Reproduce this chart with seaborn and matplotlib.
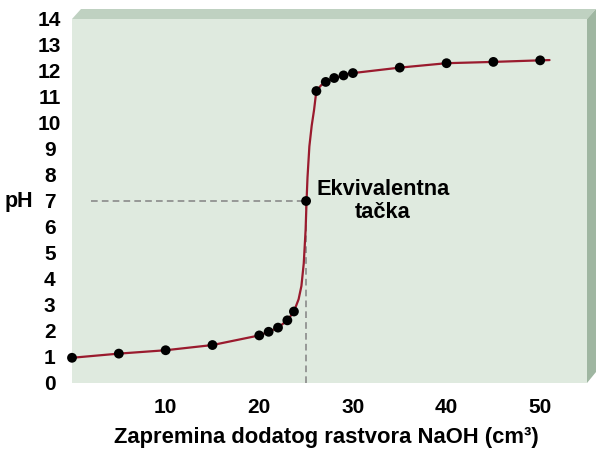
import matplotlib
matplotlib.use("Agg")
import matplotlib.pyplot as plt
from matplotlib.patches import Polygon
import seaborn as sns
import pandas as pd

# measured titration points
volume_ml = [0, 5, 10, 15, 20, 21, 22, 23, 23.7, 25, 26.1, 27.1, 28, 29, 30, 35, 40, 45, 50]
ph_values = [0.97, 1.13, 1.26, 1.46, 1.83, 1.97, 2.13, 2.41, 2.75, 7.0,
             11.23, 11.58, 11.73, 11.83, 11.92, 12.13, 12.3, 12.35, 12.41]

# smooth titration curve
curve_ml = [0, 5, 10, 15, 20, 21, 22, 23, 23.7, 24.2, 24.5, 24.75, 24.95, 25.05,
            25.15, 25.35, 25.6, 25.85, 26.0, 26.1, 26.6, 27.1, 28, 29, 30, 35, 40, 45, 50, 51]
curve_ph = [0.97, 1.13, 1.26, 1.46, 1.83, 1.97, 2.13, 2.41, 2.75, 3.22, 3.73, 4.6, 5.9, 7.0,
            7.9, 9.1, 9.9, 10.5, 10.95, 11.23, 11.45, 11.58, 11.73, 11.83, 11.92, 12.13, 12.3, 12.35,
            12.41, 12.42]

eq_ml = 25
eq_ph = 7
dash_start_ml = 2.0

x_ticks = [10, 20, 30, 40, 50]
y_ticks = list(range(0, 15))
x_label = "Zapremina dodatog rastvora NaOH (cm³)"
y_label = "pH"
eq_label = "Ekvivalentna\ntačka"

sns.set_style("white")
plt.rcParams["font.family"] = ["Liberation Sans", "DejaVu Sans"]
plt.rcParams["font.weight"] = "bold"
plt.rcParams["text.color"] = "black"
plt.rcParams["xtick.color"] = "black"
plt.rcParams["ytick.color"] = "black"
plt.rcParams["axes.labelcolor"] = "black"

fig = plt.figure(figsize=(6.06, 4.55), dpi=100)
W, H = 606, 455
L, R, T, B = 72, 587, 19, 383
ax = fig.add_axes([L / W, (H - B) / H, (R - L) / W, (B - T) / H])
ax.set_facecolor("#dfeadf")
for s in ax.spines.values():
    s.set_visible(False)

# 3D bevel
dx, dy = 9 / (R - L), 10 / (B - T)
top = Polygon([(0, 1), (dx, 1 + dy), (1 + dx, 1 + dy), (1, 1)], closed=True,
              transform=ax.transAxes, clip_on=False, facecolor="#bfd1c1", edgecolor="none", zorder=0)
right = Polygon([(1, 1), (1 + dx, 1 + dy), (1 + dx, 11 / (B - T)), (1, 0)], closed=True,
                transform=ax.transAxes, clip_on=False, facecolor="#9fb6a1", edgecolor="none", zorder=0)
ax.add_patch(top)
ax.add_patch(right)

curve_df = pd.DataFrame({"ml": curve_ml, "ph": curve_ph})
pts_df = pd.DataFrame({"ml": volume_ml, "ph": ph_values})

# dashed guide lines
ax.plot([dash_start_ml, eq_ml], [eq_ph, eq_ph], color="#8a8a8a", lw=1.2, ls=(0, (4, 2.5)), zorder=2)
ax.plot([eq_ml, eq_ml], [0, eq_ph], color="#8a8a8a", lw=1.2, ls=(0, (4, 2.5)), zorder=2)

sns.lineplot(data=curve_df, x="ml", y="ph", ax=ax, color="#9a1b2e", lw=1.6, sort=False, zorder=3)
sns.scatterplot(data=pts_df, x="ml", y="ph", ax=ax, color="black", s=50, edgecolor="none",
                zorder=4, clip_on=False)

ax.set_xlim(0, 55)
ax.set_ylim(0, 14)
ax.set_xticks(x_ticks)
ax.set_yticks(y_ticks)
ax.set_yticklabels([str(v) for v in y_ticks], fontsize=15, fontweight="bold", ha="center")
ax.set_xticklabels([str(v) for v in x_ticks], fontsize=15, fontweight="bold")
ax.tick_params(axis="y", direction="in", length=7, width=1, color="#707070",
               labelcolor="black", pad=16)
ax.tick_params(axis="x", direction="in", length=8, width=1, color="#707070",
               labelcolor="black", pad=11)

ax.set_xlabel(x_label, fontsize=15.8, fontweight="bold", color="black")
ax.xaxis.label.set_va("center")
ax.xaxis.set_label_coords((326 - L) / (R - L), (B - 438) / (B - T))
ax.set_ylabel(y_label, fontsize=15.5, fontweight="bold", rotation=0, va="center", ha="center",
              color="black")
ax.yaxis.set_label_coords((18.5 - L) / (R - L), 0.5)

ax.text(33.2, 7.0, eq_label, ha="center", va="center", multialignment="center",
        fontsize=15.7, fontweight="bold", linespacing=1.15, color="black")

fig.savefig("out.png", dpi=100)
